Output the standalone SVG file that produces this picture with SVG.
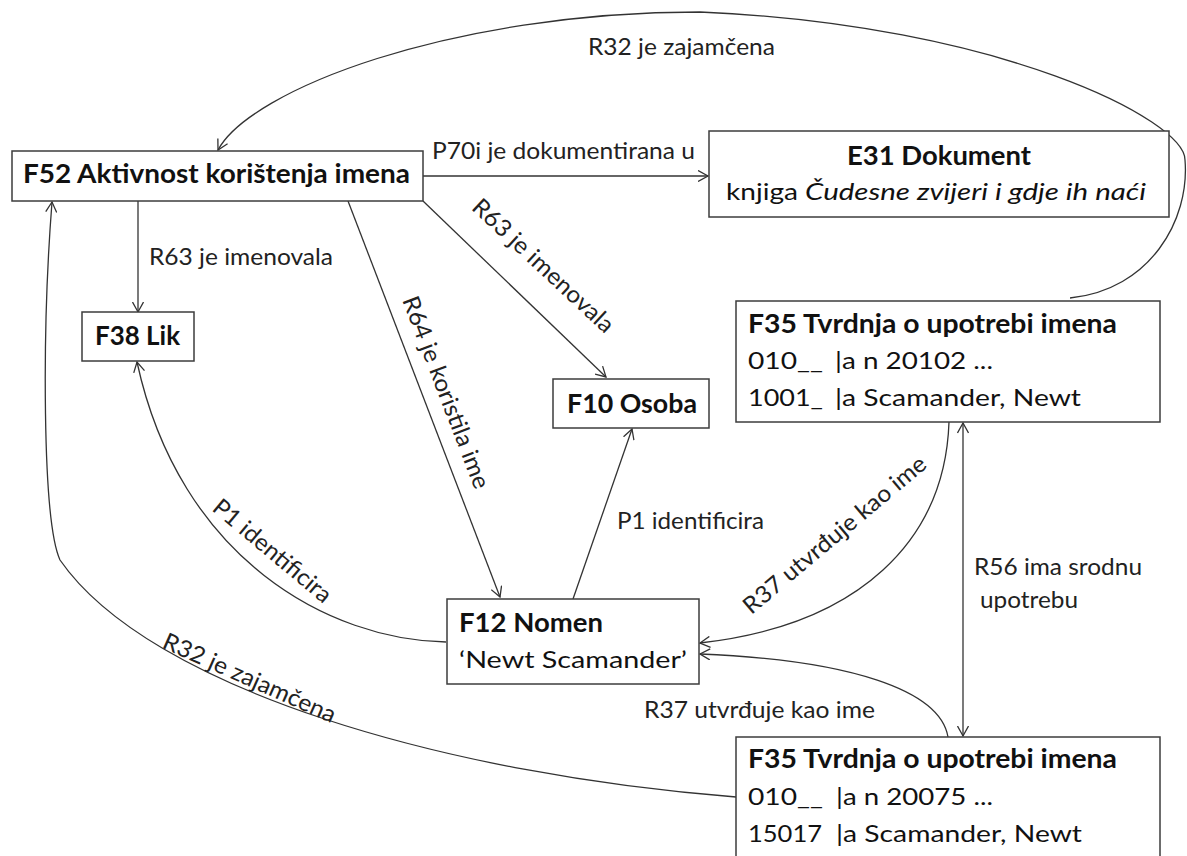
<svg xmlns="http://www.w3.org/2000/svg" width="1187" height="856" viewBox="0 0 1187 856">
<style>
.box{fill:#fff;stroke:#3c3c3c;stroke-width:1.5}
.b{font-family:Lato,"Liberation Sans",sans-serif;font-weight:700;font-size:26px;fill:#111}
.n{font-family:Lato,"Liberation Sans",sans-serif;font-size:23.5px;fill:#111}
.i{font-style:italic}
.l{font-family:Lato,"Liberation Sans",sans-serif;font-size:23.5px;fill:#222}
.r{text-anchor:middle;dominant-baseline:central}
.c{fill:none;stroke:#333;stroke-width:1.3}
</style>
<defs>
<marker id="ah" viewBox="0 0 12 12" refX="10.5" refY="6" markerWidth="12" markerHeight="12" markerUnits="userSpaceOnUse" orient="auto-start-reverse">
<path d="M0.5,0.5 L10.5,6 L0.5,11.5" fill="none" stroke="#333" stroke-width="1.3"/>
</marker>
</defs>
<rect width="1187" height="856" fill="#fff"/>

<g id="connectors">
<path class="c" d="M423,176 L708,176" marker-end="url(#ah)"/>
<path class="c" d="M138,201 L138,312" marker-end="url(#ah)"/>
<path class="c" d="M423,201 L606,377" marker-end="url(#ah)"/>
<path class="c" d="M348,201 L500,597" marker-end="url(#ah)"/>
<path class="c" d="M573,599 L632,429" marker-end="url(#ah)"/>
<path class="c" d="M446,642 C330,640 180,560 137,362" marker-end="url(#ah)"/>
<path class="c" d="M949,422 C945,540 860,625 700,643" marker-end="url(#ah)"/>
<path class="c" d="M948,737 C940,690 850,660 700,654" marker-end="url(#ah)"/>
<path class="c" d="M963,423 L963,736" marker-start="url(#ah)" marker-end="url(#ah)"/>
<path class="c" d="M736,797 C450,775 150,690 60,560 C42,520 42,330 52,202" marker-end="url(#ah)"/>
<path class="c" d="M1070,298 C1150,290 1190,220 1185,160 C1185,120 1000,25 700,12 C450,12 250,90 218,150" marker-end="url(#ah)"/>

<text class="l" x="588" y="55" textLength="187" lengthAdjust="spacingAndGlyphs">R32 je zajamčena</text>
<text class="l" x="432" y="159" textLength="263" lengthAdjust="spacingAndGlyphs">P70i je dokumentirana u</text>
<text class="l" x="149" y="265" textLength="184" lengthAdjust="spacingAndGlyphs">R63 je imenovala</text>
<text class="l r" transform="translate(544,265) rotate(43)" textLength="184" lengthAdjust="spacingAndGlyphs">R63 je imenovala</text>
<text class="l r" transform="translate(447,392) rotate(69)" textLength="204" lengthAdjust="spacingAndGlyphs">R64 je koristila ime</text>
<text class="l" x="617" y="529" textLength="147" lengthAdjust="spacingAndGlyphs">P1 identificira</text>
<text class="l r" transform="translate(273,550) rotate(40)" textLength="147" lengthAdjust="spacingAndGlyphs">P1 identificira</text>
<text class="l r" transform="translate(834,534) rotate(-40)" textLength="231" lengthAdjust="spacingAndGlyphs">R37 utvrđuje kao ime</text>
<text class="l" x="974" y="575" textLength="168" lengthAdjust="spacingAndGlyphs">R56 ima srodnu</text>
<text class="l" x="980" y="608" textLength="98" lengthAdjust="spacingAndGlyphs">upotrebu</text>
<text class="l" x="644" y="718" textLength="231" lengthAdjust="spacingAndGlyphs">R37 utvrđuje kao ime</text>
<text class="l r" transform="translate(250,677) rotate(24)" textLength="187" lengthAdjust="spacingAndGlyphs">R32 je zajamčena</text>
</g>

<g id="F52">
<rect class="box" x="12" y="151" width="411" height="50"/>
<text class="b" x="23" y="183" textLength="387" lengthAdjust="spacingAndGlyphs">F52 Aktivnost korištenja imena</text>
</g>

<g id="E31">
<rect class="box" x="709" y="131" width="460" height="86"/>
<text class="b" x="847" y="165" textLength="184" lengthAdjust="spacingAndGlyphs">E31 Dokument</text>
<text class="n" x="726" y="200" textLength="72" lengthAdjust="spacingAndGlyphs">knjiga</text>
<text class="n i" x="805" y="200" textLength="341" lengthAdjust="spacingAndGlyphs">Čudesne zvijeri i gdje ih naći</text>
</g>

<g id="F38">
<rect class="box" x="82" y="312" width="112" height="49"/>
<text class="b" x="95" y="345" textLength="85" lengthAdjust="spacingAndGlyphs">F38 Lik</text>
</g>

<g id="F10">
<rect class="box" x="553" y="379" width="156" height="49"/>
<text class="b" x="567" y="413" textLength="130" lengthAdjust="spacingAndGlyphs">F10 Osoba</text>
</g>

<g id="F12">
<rect class="box" x="447" y="599" width="252" height="85"/>
<text class="b" x="459" y="632" textLength="144" lengthAdjust="spacingAndGlyphs">F12 Nomen</text>
<text class="n" x="459" y="668" textLength="228" lengthAdjust="spacingAndGlyphs">‘Newt Scamander’</text>
</g>

<g id="F35a">
<rect class="box" x="736" y="301" width="424" height="121"/>
<text class="b" x="748" y="333" textLength="369" lengthAdjust="spacingAndGlyphs">F35 Tvrdnja o upotrebi imena</text>
<text class="n" x="748" y="369" textLength="75" lengthAdjust="spacingAndGlyphs">010__</text>
<text class="n" x="835" y="369" textLength="158" lengthAdjust="spacingAndGlyphs">|a n 20102 ...</text>
<text class="n" x="748" y="406" textLength="75" lengthAdjust="spacingAndGlyphs">1001_</text>
<text class="n" x="835" y="406" textLength="246" lengthAdjust="spacingAndGlyphs">|a Scamander, Newt</text>
</g>

<g id="F35b">
<rect class="box" x="736" y="737" width="424" height="140"/>
<text class="b" x="748" y="768" textLength="369" lengthAdjust="spacingAndGlyphs">F35 Tvrdnja o upotrebi imena</text>
<text class="n" x="748" y="805" textLength="75" lengthAdjust="spacingAndGlyphs">010__</text>
<text class="n" x="836" y="805" textLength="157" lengthAdjust="spacingAndGlyphs">|a n 20075 ...</text>
<text class="n" x="748" y="842" textLength="74" lengthAdjust="spacingAndGlyphs">15017</text>
<text class="n" x="836" y="842" textLength="246" lengthAdjust="spacingAndGlyphs">|a Scamander, Newt</text>
</g>
</svg>
